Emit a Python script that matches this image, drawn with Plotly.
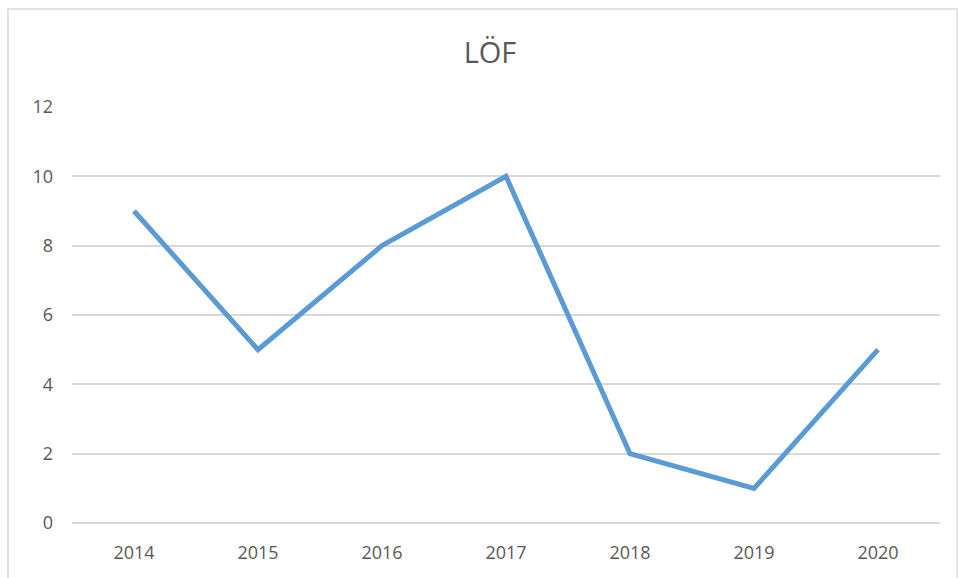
import plotly.graph_objects as go

years = ["2014", "2015", "2016", "2017", "2018", "2019", "2020"]
values = [9, 5, 8, 10, 2, 1, 5]
y_ticks = [0, 2, 4, 6, 8, 10, 12]

W, H = 958, 578
L, R, T, B = 72, 18, 107, 55
pw, ph = W - L - R, H - T - B

fig = go.Figure()
fig.add_trace(go.Scatter(
    x=years, y=values, mode="lines",
    line=dict(color="#5b9bd5", width=5),
    hoverinfo="x+y",
))

fig.update_layout(
    width=W, height=H,
    margin=dict(l=L, r=R, t=T, b=B),
    paper_bgcolor="white", plot_bgcolor="white",
    showlegend=False,
    font=dict(family="Open Sans, Liberation Sans, sans-serif", color="#595959", size=18),
    title=dict(text="LÖF", x=(490 - L) / pw, xref="paper", xanchor="center",
               y=1 - 53 / H, yanchor="middle",
               font=dict(size=29, color="#595959")),
    xaxis=dict(type="category", showgrid=False, zeroline=False, showline=False,
               ticks="", tickfont=dict(size=18, color="#595959"),
               range=[-0.5, len(years) - 0.5], ticklabelstandoff=17),
    yaxis=dict(range=[0, 12], tickvals=y_ticks, showgrid=True, gridcolor="#d9d9d9",
               gridwidth=1.5, zeroline=True, zerolinecolor="#d9d9d9", zerolinewidth=1.5,
               showline=False, ticks="",
               tickfont=dict(size=18, color="#595959"), ticklabelstandoff=18),
    shapes=[dict(type="rect", xref="paper", yref="paper",
                 x0=(8 - L) / pw, x1=(957 - L) / pw,
                 y0=(H - B - 590) / ph, y1=(H - B - 9) / ph,
                 line=dict(color="#d9d9d9", width=1.5), layer="below")],
)

fig.write_html("out.html", config={"displayModeBar": False},
               post_script="document.body.style.margin='0';")
